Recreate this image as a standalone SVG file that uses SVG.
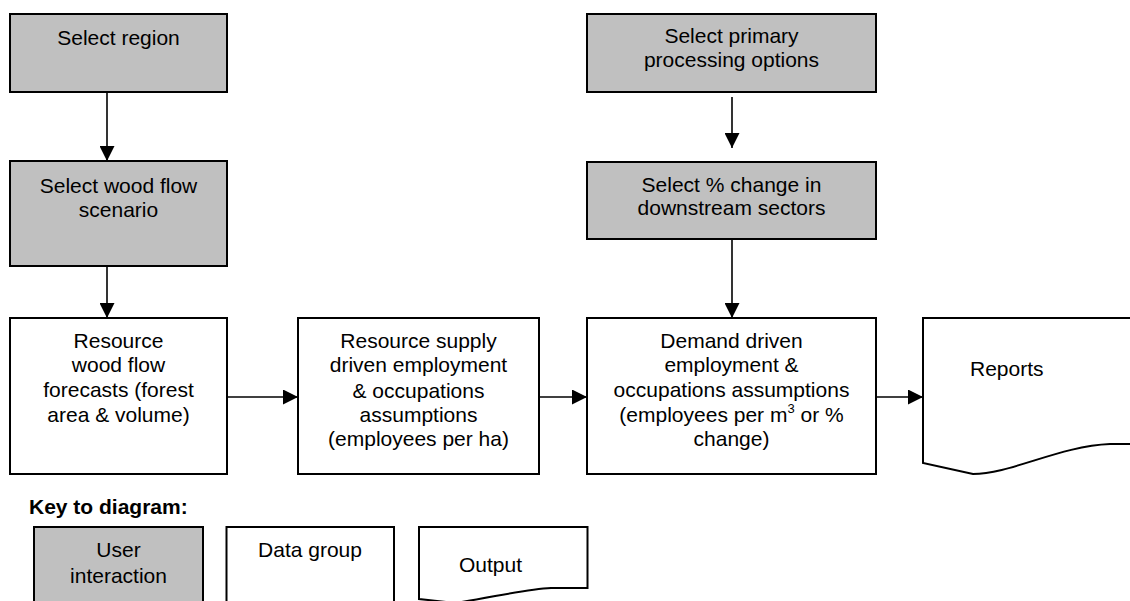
<svg xmlns="http://www.w3.org/2000/svg" width="1130" height="601" viewBox="0 0 1130 601">
<defs>
<style>
.box{fill:#fff;stroke:#000;stroke-width:2}
.user{fill:#c0c0c0;stroke:#000;stroke-width:2}
.t{font-family:"Liberation Sans",Arial,sans-serif;font-size:21px;fill:#000;text-anchor:middle}
.tl{font-family:"Liberation Sans",Arial,sans-serif;font-size:21px;fill:#000}
.kt{font-family:"Liberation Sans",Arial,sans-serif;font-size:21px;font-weight:bold;fill:#000}
.c{fill:none;stroke:#000;stroke-width:1.6;marker-end:url(#ah)}
</style>
<marker id="ah" viewBox="0 0 15 15" refX="15" refY="7.5" markerWidth="15" markerHeight="15" markerUnits="userSpaceOnUse" orient="auto">
<path d="M0,0 L15,7.5 L0,15 Z" fill="#000"/>
</marker>
</defs>
<rect width="1130" height="601" fill="#fff"/>

<g id="connectors">
<line class="c" x1="107" y1="92" x2="107" y2="161"/>
<line class="c" x1="107" y1="266" x2="107" y2="318"/>
<line class="c" x1="732" y1="97" x2="732" y2="148"/>
<line class="c" x1="732" y1="239" x2="732" y2="318"/>
<line class="c" x1="227" y1="397" x2="298" y2="397"/>
<line class="c" x1="539" y1="397" x2="587" y2="397"/>
<line class="c" x1="876" y1="397" x2="923" y2="397"/>
</g>

<g id="select-region">
<rect class="user" x="10" y="14" width="217" height="78"/>
<text class="t" x="118.5" y="45">Select region</text>
</g>

<g id="select-wood-flow">
<rect class="user" x="10" y="161" width="217" height="105"/>
<text class="t" x="118.5" y="193">Select wood flow</text>
<text class="t" x="118.5" y="217">scenario</text>
</g>

<g id="resource-wood-flow">
<rect class="box" x="10" y="318" width="217" height="156"/>
<text class="t" x="118.5" y="348">Resource</text>
<text class="t" x="118.5" y="372">wood flow</text>
<text class="t" x="118.5" y="397">forecasts (forest</text>
<text class="t" x="118.5" y="422">area &amp; volume)</text>
</g>

<g id="resource-supply">
<rect class="box" x="298" y="318" width="241" height="156"/>
<text class="t" x="418.5" y="348">Resource supply</text>
<text class="t" x="418.5" y="372">driven employment</text>
<text class="t" x="418.5" y="398">&amp; occupations</text>
<text class="t" x="418.5" y="422">assumptions</text>
<text class="t" x="418.5" y="446">(employees per ha)</text>
</g>

<g id="select-primary">
<rect class="user" x="587" y="14" width="289" height="78"/>
<text class="t" x="731.5" y="43">Select primary</text>
<text class="t" x="731.5" y="67">processing options</text>
</g>

<g id="select-change">
<rect class="user" x="587" y="162" width="289" height="77"/>
<text class="t" x="731.5" y="192">Select % change in</text>
<text class="t" x="731.5" y="215">downstream sectors</text>
</g>

<g id="demand-driven">
<rect class="box" x="587" y="318" width="289" height="156"/>
<text class="t" x="731.5" y="348">Demand driven</text>
<text class="t" x="731.5" y="372">employment &amp;</text>
<text class="t" x="731.5" y="397">occupations assumptions</text>
<text class="t" x="731.5" y="422">(employees per m<tspan font-size="13" dy="-9">3</tspan><tspan dy="9"> or %</tspan></text>
<text class="t" x="731.5" y="446">change)</text>
</g>

<g id="reports">
<path class="box" d="M923,318 H1165 V444 H1110 C1060,446 1010,474 973,474 L923,463 Z"/>
<text class="tl" x="970" y="376">Reports</text>
</g>

<g id="key">
<text class="kt" x="29" y="514">Key to diagram:</text>
<g id="key-user">
<rect class="user" x="34" y="527" width="169" height="90"/>
<text class="t" x="118.5" y="557">User</text>
<text class="t" x="118.5" y="583">interaction</text>
</g>
<g id="key-data">
<rect class="box" x="226.5" y="527" width="167.5" height="90"/>
<text class="t" x="310" y="557">Data group</text>
</g>
<g id="key-output">
<path class="box" d="M419,527 H587.5 V588 H551 C525,589 490,598 455,603 L419,599 Z"/>
<text class="tl" x="459" y="572">Output</text>
</g>
</g>
</svg>
